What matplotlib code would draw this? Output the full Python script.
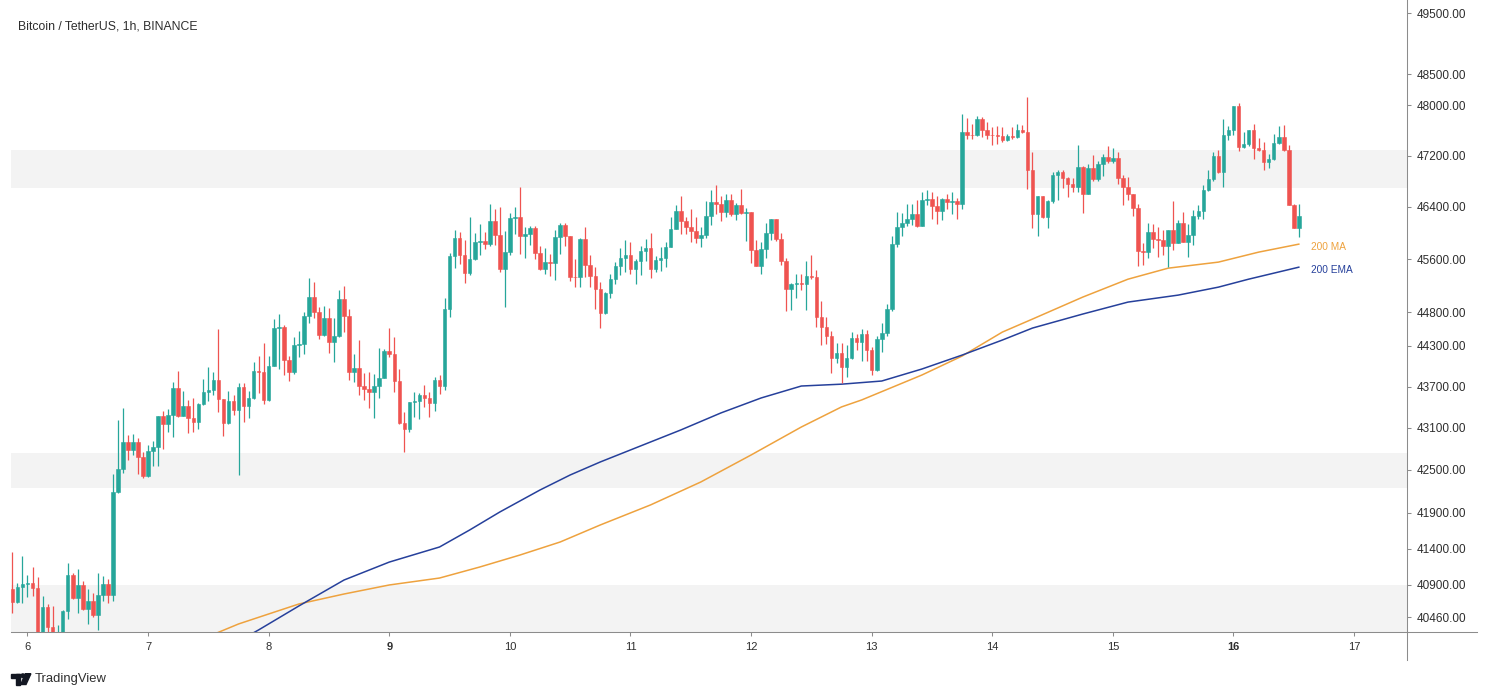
import matplotlib
matplotlib.use("Agg")
import matplotlib.pyplot as plt
import matplotlib.dates as mdates
from matplotlib.lines import Line2D
from matplotlib.patches import Rectangle, Polygon, Ellipse
from matplotlib.ticker import NullLocator
import numpy as np
import pandas as pd

plt.rcParams['font.family'] = ['Liberation Sans', 'DejaVu Sans']

W, H = 1488, 697

# hourly candles, first one at 21:00 the day before the "6" tick
first_candle = '2021-08-05 21:00'
opens = [
    40840, 40671, 40871, 40912, 40925, 40857, 40150, 40595, 40334, 40150, 40200, 40550,
    41031, 40717, 40903, 40577, 40680, 40490, 40762, 40917, 40762, 42189, 42514, 42895,
    42781, 42895, 42690, 42415, 42775, 42832, 43268, 43157, 43288, 43684, 43278, 43422,
    43239, 43190, 43447, 43625, 43650, 43796, 43515, 43167, 43486, 43360, 43699, 43418,
    43530, 43927, 43920, 43505, 44006, 44566, 44572, 44089, 43913, 44310, 44325, 44741,
    45025, 44796, 44458, 44715, 44359, 44443, 44995, 44736, 43909, 43971, 43708, 43665,
    43625, 43708, 43830, 44226, 44177, 43786, 43167, 43085, 43472, 43490, 43578, 43539,
    43466, 43796, 43708, 44850, 45645, 45915, 45660, 45386, 45599, 45868, 45878, 45828,
    46181, 45966, 45447, 45706, 46232, 46242, 45950, 45991, 46083, 45695, 45447, 45554,
    45538, 45940, 46119, 45955, 45330, 45325, 45904, 45508, 45336, 45145, 44780, 45080,
    45295, 45493, 45614, 45660, 45442, 45574, 45721, 45762, 45442, 45584, 45610, 45786,
    46068, 46334, 46181, 46093, 46027, 45915, 45966, 46258, 46474, 46443, 46324, 46516,
    46299, 46428, 46309, 46319, 45736, 45497, 45751, 46001, 46212, 45904, 45574, 45140,
    45220, 45230, 45220, 45341, 45325, 44730, 44582, 44448, 44123, 44187, 43991, 44123,
    44418, 44350, 44473, 44236, 43942, 44394, 44483, 44840, 45823, 46093, 46160, 46212,
    46288, 46109, 46505, 46526, 46417, 46340, 46526, 46485, 46495, 46443, 47578, 47536,
    47530, 47791, 47616, 47536, 47525, 47515, 47446, 47514, 47500, 47605, 47584, 46974,
    46288, 46567, 46242, 46490, 46896, 46943, 46844, 46750, 46713, 47026, 46599, 47010,
    46828, 47068, 47183, 47115, 47167, 46859, 46713, 46599, 46386, 45721, 45710, 46016,
    45904, 45895, 45797, 46042, 45848, 46155, 45863, 45966, 46262, 46340, 46661, 46828,
    47204, 46948, 47525, 47616, 47988, 47340, 47382, 47605, 47325, 47288, 47104, 47146,
    47409, 47499, 47288, 46438, 46083,
]
highs = [
    41348, 40926, 41292, 41031, 41141, 41008, 40748, 40640, 40613, 40360, 40559, 41200,
    41058, 41122, 40953, 40848, 40785, 41062, 41017, 40976, 42447, 43215, 43389, 43000,
    43014, 42961, 42761, 42852, 42909, 43275, 43346, 43375, 43767, 43927, 43640, 43505,
    43534, 43455, 43806, 43986, 43913, 44547, 43520, 43636, 43580, 43748, 43757, 43640,
    44055, 44143, 44340, 44152, 44691, 44766, 44606, 44148, 44433, 44517, 44796, 45306,
    45255, 44880, 44885, 44865, 44715, 45130, 45194, 44845, 44177, 44384, 43903, 43908,
    43879, 44261, 44246, 44566, 44433, 43952, 43335, 43480, 43625, 43602, 43723, 43625,
    43845, 43869, 45015, 45695, 46042, 46016, 45889, 46247, 46006, 46134, 46021, 46454,
    46376, 46402, 46032, 46309, 46402, 46713, 46093, 46104, 46109, 45797, 45767, 45670,
    46042, 46155, 46155, 45960, 45595, 45924, 46093, 45660, 45482, 45260, 45095, 45371,
    45558, 45762, 45889, 45868, 45604, 45807, 45909, 46001, 45645, 45786, 45863, 46247,
    46428, 46567, 46247, 46376, 46247, 46093, 46494, 46661, 46739, 46572, 46609, 46599,
    46463, 46672, 46392, 46325, 45899, 45863, 46160, 46220, 46220, 46006, 45619, 45240,
    45381, 45381, 45574, 45660, 45432, 44965, 44730, 44517, 44335, 44335, 44310, 44507,
    44473, 44547, 44540, 44285, 44440, 44632, 44915, 45950, 46319, 46314, 46454, 46454,
    46516, 46635, 46661, 46635, 46567, 46547, 46609, 46635, 46532, 47871, 47801, 47711,
    47828, 47817, 47737, 47658, 47674, 47658, 47552, 47658, 47711, 47684, 48137, 47261,
    46570, 46570, 46505, 46948, 46974, 46974, 46869, 46859, 47367, 47037, 47068, 47209,
    47120, 47236, 47356, 47324, 47261, 46896, 46869, 46600, 46454, 45838, 46155, 46145,
    46093, 46052, 46052, 46490, 46196, 46324, 46145, 46350, 46428, 46739, 46974, 47261,
    47288, 47791, 47668, 47990, 48041, 47578, 47610, 47711, 47483, 47414, 47236, 47552,
    47668, 47695, 47367, 46454, 46454,
]
lows = [
    40514, 40649, 40649, 40739, 40748, 40050, 40100, 40200, 40080, 40050, 40150, 40442,
    40704, 40523, 40559, 40374, 40468, 40289, 40685, 40649, 40685, 42170, 42453, 42638,
    42714, 42439, 42382, 42405, 42557, 42561, 42804, 43042, 42967, 43263, 43268, 43023,
    43047, 43090, 43432, 43490, 43573, 43335, 42990, 43160, 43280, 42429, 43190, 43239,
    43520, 43611, 43447, 43495, 43995, 43957, 43865, 43777, 43883, 44138, 44177, 44632,
    44715, 44394, 44443, 44187, 44064, 44430, 44502, 43796, 43771, 43573, 43510, 43385,
    43248, 43530, 43820, 44138, 43625, 43160, 42761, 43038, 43263, 43229, 43408, 43258,
    43350, 43587, 43650, 44730, 45458, 45519, 45240, 45356, 45584, 45660, 45747, 45802,
    45812, 45406, 44880, 45660, 45991, 45685, 45619, 45812, 45599, 45427, 45381, 45341,
    45280, 45685, 45802, 45265, 45170, 45170, 45330, 45175, 44840, 44566, 44770, 45005,
    45220, 45351, 45406, 45366, 45220, 45351, 45574, 45320, 45401, 45422, 45482, 45780,
    46057, 45981, 45991, 45863, 45838, 45786, 45915, 46119, 46299, 46181, 46247, 46258,
    46196, 46288, 45878, 45534, 45490, 45366, 45619, 45889, 45874, 45508, 44820, 44830,
    45005, 45130, 44830, 45295, 44582, 44310, 44320, 43903, 44050, 43757, 43845, 44099,
    44236, 44074, 44080, 43869, 43928, 44202, 44443, 44815, 45786, 45950, 46109, 46119,
    46093, 46104, 46428, 46222, 46145, 46196, 46376, 46299, 46212, 46376, 47473, 47473,
    47514, 47499, 47473, 47378, 47393, 47420, 47430, 47462, 47489, 47563, 46672, 46083,
    45955, 46232, 46083, 46469, 46516, 46688, 46557, 46630, 46635, 46309, 46595, 46802,
    46802, 46885, 47079, 47079, 46765, 46428, 46505, 46258, 45497, 45508, 45610, 45762,
    45635, 45660, 45482, 45736, 45838, 45860, 45635, 45812, 46212, 46222, 46650, 46806,
    46932, 46713, 47446, 47525, 47277, 47330, 47362, 47151, 47272, 46974, 47010, 47131,
    47393, 47277, 46428, 46078, 45940,
]
closes = [
    40671, 40871, 40912, 40925, 40857, 40150, 40595, 40334, 40150, 40200, 40550, 41031,
    40717, 40903, 40577, 40680, 40490, 40762, 40917, 40762, 42189, 42514, 42895, 42781,
    42895, 42690, 42415, 42775, 42832, 43268, 43157, 43288, 43684, 43278, 43422, 43239,
    43190, 43447, 43625, 43650, 43796, 43515, 43167, 43486, 43360, 43699, 43418, 43530,
    43927, 43920, 43505, 44006, 44566, 44572, 44089, 43913, 44310, 44325, 44741, 45025,
    44796, 44458, 44715, 44359, 44443, 44995, 44736, 43909, 43971, 43708, 43665, 43625,
    43708, 43830, 44226, 44177, 43786, 43167, 43085, 43472, 43490, 43578, 43539, 43466,
    43796, 43708, 44850, 45645, 45915, 45660, 45386, 45599, 45868, 45878, 45828, 46181,
    45966, 45447, 45706, 46232, 46242, 45950, 45991, 46083, 45695, 45447, 45554, 45538,
    45940, 46119, 45955, 45330, 45325, 45904, 45508, 45336, 45145, 44780, 45080, 45295,
    45493, 45614, 45660, 45442, 45574, 45721, 45762, 45442, 45584, 45610, 45786, 46068,
    46334, 46181, 46093, 46027, 45915, 45966, 46258, 46474, 46443, 46324, 46516, 46299,
    46428, 46309, 46319, 45736, 45497, 45751, 46001, 46212, 45904, 45574, 45140, 45220,
    45230, 45220, 45341, 45325, 44730, 44582, 44448, 44123, 44187, 43991, 44123, 44418,
    44350, 44473, 44236, 43942, 44394, 44483, 44840, 45823, 46093, 46160, 46212, 46288,
    46109, 46505, 46526, 46417, 46340, 46526, 46485, 46495, 46443, 47578, 47536, 47530,
    47791, 47616, 47536, 47525, 47515, 47446, 47514, 47500, 47605, 47584, 46974, 46288,
    46567, 46242, 46490, 46896, 46943, 46844, 46750, 46713, 47026, 46599, 47010, 46828,
    47068, 47183, 47115, 47167, 46859, 46713, 46599, 46386, 45721, 45710, 46016, 45904,
    45895, 45797, 46042, 45848, 46155, 45863, 45966, 46262, 46340, 46661, 46828, 47204,
    46948, 47525, 47616, 47988, 47340, 47382, 47605, 47325, 47288, 47104, 47146, 47409,
    47499, 47288, 46438, 46083, 46258,
]

# 200 MA / 200 EMA at some candles (index into the candle list)
ma_idx = [40, 45, 51, 57, 66, 75, 85, 93, 101, 109, 117, 127, 137, 147, 157, 165,
          169, 181, 189, 197, 203, 213, 222, 230, 240, 248, 256]
ma_vals = [40230, 40370, 40505, 40640, 40776, 40899, 40994, 41145, 41310, 41490, 41727,
           42007, 42330, 42713, 43114, 43404, 43505, 43869, 44148, 44502, 44696, 45025,
           45295, 45462, 45554, 45706, 45828]
ema_idx = [45, 49, 57, 66, 75, 85, 91, 97, 105, 111, 117, 125, 133, 141, 149, 157,
           165, 173, 181, 189, 197, 203, 213, 222, 232, 240, 246, 256]
ema_vals = [40140, 40290, 40613, 40967, 41213, 41421, 41657, 41908, 42217, 42429, 42614,
            42842, 43071, 43317, 43534, 43708, 43735, 43781, 43957, 44162, 44384, 44562,
            44771, 44950, 45055, 45175, 45295, 45477]

zones = [(46692, 47288), (42245, 42742), (40000, 40899)]
price_ticks = [40460, 40900, 41400, 41900, 42500, 43100, 43700, 44300, 44800,
               45600, 46400, 47200, 48000, 48500, 49500]
days = list(range(6, 18))
bold_days = [9, 16]

UP = '#26a69a'
DOWN = '#ef5350'
MA_COL = '#eea23e'
EMA_COL = '#26409b'
AXIS = '#8c8c8c'
TXT = '#2e2e2e'


def fx(p):
    return p / W


def fy(p):
    return 1 - p / H


fig = plt.figure(figsize=(W / 100, H / 100), dpi=100, facecolor='white')
ax = fig.add_axes([fx(10.7), fy(632), (1406.7 - 10.7) / W, 632 / H])

times = pd.date_range(first_candle, periods=len(closes), freq='h')
x = mdates.date2num(times)
o = np.array(opens, dtype=float)
c = np.array(closes, dtype=float)
hi = np.array(highs, dtype=float)
lo = np.array(lows, dtype=float)
cols = np.where(c >= o, UP, DOWN)

for z0, z1 in zones:
    ax.axhspan(z0, z1, color='#f3f3f3', lw=0, zorder=0)

ax.plot(x[ma_idx], ma_vals, color=MA_COL, lw=1.1, zorder=2, solid_joinstyle='round')
ax.plot(x[ema_idx], ema_vals, color=EMA_COL, lw=1.1, zorder=2, solid_joinstyle='round')

ax.vlines(x, lo, hi, colors=cols, lw=0.9, zorder=3)
ax.bar(x, np.abs(c - o), bottom=np.minimum(o, c), width=0.72 / 24,
       color=cols, edgecolor=cols, lw=0.4, zorder=4)

# line labels sit a little to the right of the last candle, slightly below the line end
ax.annotate('200 MA', (x[-1], ma_vals[-1]), xytext=(8.6, -2.2), textcoords='offset points',
            color=MA_COL, fontsize=7.3, va='center', ha='left')
ax.annotate('200 EMA', (x[-1], ema_vals[-1]), xytext=(8.6, -2.2), textcoords='offset points',
            color=EMA_COL, fontsize=7.3, va='center', ha='left')

ax.set_yscale('log')
ax.set_ylim(40262, 49720)
ax.set_yticks(price_ticks)
ax.set_yticklabels([f'{v:.2f}' for v in price_ticks])
ax.yaxis.set_minor_locator(NullLocator())
ax.yaxis.tick_right()

day0 = pd.Timestamp('2021-08-06')
ax.set_xlim(mdates.date2num(day0 - pd.Timedelta(hours=3.34)),
            mdates.date2num(day0 + pd.Timedelta(hours=274.47)))
day_ticks = [mdates.date2num(day0 + pd.Timedelta(days=d - 6)) for d in days]
ax.set_xticks(day_ticks, [str(d) for d in days])
ax.xaxis.set_minor_locator(NullLocator())
for lbl in ax.get_xticklabels():
    if int(lbl.get_text()) in bold_days:
        lbl.set_fontweight('bold')

for s in ('left', 'top'):
    ax.spines[s].set_visible(False)
for s in ('right', 'bottom'):
    ax.spines[s].set_color(AXIS)
    ax.spines[s].set_linewidth(0.75)

ax.tick_params(axis='y', direction='out', length=3, width=0.75, color=AXIS,
               pad=4.3, labelsize=8.5, labelcolor=TXT)
ax.tick_params(axis='x', direction='out', length=3, width=0.75, color=AXIS,
               pad=4, labelsize=8, labelcolor=TXT)

# axis lines keep going past the corner, like on TradingView
fig.add_artist(Line2D([fx(1406.7), fx(1477)], [fy(632), fy(632)], color=AXIS, lw=0.75))
fig.add_artist(Line2D([fx(1406.7), fx(1406.7)], [fy(632), fy(660)], color=AXIS, lw=0.75))

fig.text(fx(18), fy(26.7), 'Bitcoin / TetherUS, 1h, BINANCE', fontsize=8.8,
         color=TXT, va='center', ha='left')

# TradingView logo + name
logo = '#131722'
fig.add_artist(Rectangle((fx(10.7), fy(677.8)), fx(9.6), 4.1 / H, color=logo,
                         transform=fig.transFigure))
fig.add_artist(Rectangle((fx(15.5), fy(684.5)), fx(4.8), 10.8 / H, color=logo,
                         transform=fig.transFigure))
fig.add_artist(Ellipse((fx(22.8), fy(675.7)), fx(3.6), 3.6 / H, color=logo,
                       transform=fig.transFigure))
fig.add_artist(Polygon([(fx(25.3), fy(673.7)), (fx(30.9), fy(673.7)),
                        (fx(26), fy(684.5)), (fx(20.8), fy(684.5))],
                       closed=True, color=logo, transform=fig.transFigure))
fig.text(fx(35), fy(679), 'TradingView', fontsize=9.4, color=TXT, va='center', ha='left')

fig.savefig('out.png', dpi=100, facecolor='white')
